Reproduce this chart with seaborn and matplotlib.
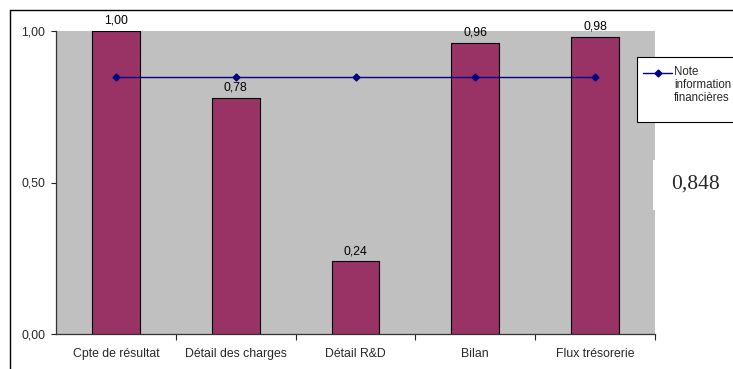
import matplotlib
matplotlib.use("Agg")
import matplotlib.pyplot as plt
import seaborn as sns
import pandas as pd
from matplotlib.lines import Line2D
from matplotlib.patches import Rectangle

categories = ["Cpte de résultat", "Détail des charges", "Détail R&D", "Bilan", "Flux trésorerie"]
scores = [1.00, 0.78, 0.24, 0.96, 0.98]
note = [0.848, 0.848, 0.848, 0.848, 0.848]
score_labels = ["1,00", "0,78", "0,24", "0,96", "0,98"]
ytick_values = [0.0, 0.5, 1.0]
ytick_labels = ["0,00", "0,50", "1,00"]
legend_label = "Note\ninformation\nfinancières"
note_text = "0,848"

sns.set_theme(style="white")
plt.rcParams["font.family"] = ["Liberation Sans", "DejaVu Sans"]

df = pd.DataFrame({"cat": categories, "score": scores, "note": note})

fs = 8.8

fig = plt.figure(figsize=(7.33, 3.69), dpi=100)
fig.patch.set_facecolor("white")
ax = fig.add_axes([56/733, 1-334/369, (655-56)/733, (334-31)/369])
ax.set_facecolor("#C0C0C0")

sns.barplot(data=df, x="cat", y="score", color="#993366", width=0.4,
            edgecolor="black", linewidth=0.8, saturation=1, ax=ax)
ax.plot(range(len(categories)), df["note"], color="#000080", linewidth=1,
        marker="D", markersize=3.5, zorder=5)

for i, (v, lab) in enumerate(zip(scores, score_labels)):
    ax.annotate(lab, (i, v), xytext=(0, 3), textcoords="offset points",
                ha="center", va="bottom", fontsize=fs, color="black")

ax.set_ylim(0, 1)
ax.set_xlim(-0.5, len(categories) - 0.5)
ax.set_yticks(ytick_values)
ax.set_yticklabels(ytick_labels, fontsize=fs)
ax.set_xticks(range(len(categories)))
ax.set_xticklabels(categories, fontsize=fs)
ax.set_xticks([i + 0.5 for i in range(len(categories))], minor=True)
ax.tick_params(axis="x", which="major", length=0, pad=10)
ax.tick_params(axis="x", which="minor", length=4, width=0.8, color="#222222", direction="out", bottom=True)
ax.tick_params(axis="y", which="major", length=3.6, width=0.8, color="#222222", direction="out", left=True, pad=4)
ax.set_xlabel("")
ax.set_ylabel("")
for s in ["top", "right"]:
    ax.spines[s].set_visible(False)
for s in ["left", "bottom"]:
    ax.spines[s].set_color("#333333")
    ax.spines[s].set_linewidth(0.9)

# outer chart frame
fig.add_artist(Line2D([10/733, 10/733], [0, 1-10/369], color="black", linewidth=1, transform=fig.transFigure))
fig.add_artist(Line2D([10/733, 1], [1-10/369, 1-10/369], color="black", linewidth=1, transform=fig.transFigure))

# legend box
lx0, ly0, lx1, ly1 = 637/733, 1-122/369, 1.02, 1-57/369
fig.add_artist(Rectangle((lx0, ly0), lx1-lx0, ly1-ly0, transform=fig.transFigure,
                         facecolor="white", edgecolor="black", linewidth=0.8, zorder=10))
fig.add_artist(Line2D([643/733, 672/733], [1-73/369, 1-73/369], color="#000080", linewidth=1,
                      transform=fig.transFigure, zorder=11))
fig.add_artist(Line2D([657.5/733], [1-73/369], color="#000080", marker="D", markersize=3.5,
                      linestyle="none", transform=fig.transFigure, zorder=11))
fig.text(674/733, 1-66/369, legend_label, fontsize=8.3, va="top", ha="left",
         linespacing=1.1, zorder=12)

# white box with value
fig.add_artist(Rectangle((653/733, 1-210/369), 80/733, 50/369, transform=fig.transFigure,
                         facecolor="white", edgecolor="none", zorder=10))
fig.text(695/733, 1-184/369, note_text, fontsize=15.5, family=["Liberation Serif"],
         ha="center", va="center", zorder=12)

fig.savefig("out.png", dpi=100)
